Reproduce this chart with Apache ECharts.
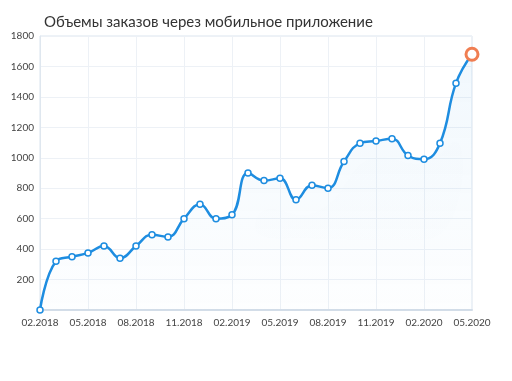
<!DOCTYPE html>
<html>
<head>
<meta charset="utf-8">
<script src="https://cdn.jsdelivr.net/npm/echarts@6/dist/echarts.min.js"></script>
<style>html,body{margin:0;padding:0;background:#fff}#c{width:512px;height:381px}</style>
</head>
<body>
<div id="c"></div>
<script>
const months = ['02.2018','03.2018','04.2018','05.2018','06.2018','07.2018','08.2018','09.2018','10.2018','11.2018','12.2018',
  '01.2019','02.2019','03.2019','04.2019','05.2019','06.2019','07.2019','08.2019','09.2019','10.2019','11.2019','12.2019',
  '01.2020','02.2020','03.2020','04.2020','05.2020'];
const orders = [0,320,350,375,420,340,420,495,480,600,695,600,625,900,850,865,725,820,800,975,1095,1110,1125,1015,990,1095,1490,1680];
const title = 'Объемы заказов через мобильное приложение';

const chart = echarts.init(document.getElementById('c'));
const last = orders.length - 1;
chart.setOption({
  animation:false,
  title:{text:title,left:39,top:10,textStyle:{fontFamily:'Lato',fontSize:15,fontWeight:'normal',color:'#333'}},
  grid:{left:40,right:40,top:36,bottom:71,show:true,borderColor:'#dbe4ee',borderWidth:1,backgroundColor:'transparent'},
  xAxis:{type:'category',data:months,boundaryGap:false,
    axisLine:{lineStyle:{color:'#d3dde8',width:2}},axisTick:{show:false},
    axisLabel:{interval:2,color:'#444',fontFamily:'Lato',fontSize:10,margin:8},
    splitLine:{show:true,interval:2,lineStyle:{color:'#edf1f6'}}},
  yAxis:{type:'value',min:0,max:1800,interval:200,
    axisLine:{show:true,lineStyle:{color:'#dfe7ef'}},axisTick:{show:false},
    axisLabel:{color:'#444',fontFamily:'Lato',fontSize:10,margin:6,formatter:v=>v===0?'':v},
    splitLine:{lineStyle:{color:'#edf1f6'}}},
  series:[{type:'line',smooth:0.45,data:orders.map((v,i)=>i===last?{value:v,symbolSize:12,itemStyle:{color:'#fff',borderColor:'#f07e52',borderWidth:3}}:v),
    symbol:'circle',symbolSize:6,
    lineStyle:{color:'#1e8de0',width:2.5},
    itemStyle:{color:'#fff',borderColor:'#1e8de0',borderWidth:1.5},
    areaStyle:{color:new echarts.graphic.LinearGradient(0,0,0,1,[{offset:0,color:'rgba(30,141,224,0.09)'},{offset:1,color:'rgba(30,141,224,0.01)'}]),
      shadowBlur:40,shadowColor:'rgba(30,141,224,0.08)',shadowOffsetY:8}
  }]
});
</script>
</body>
</html>
